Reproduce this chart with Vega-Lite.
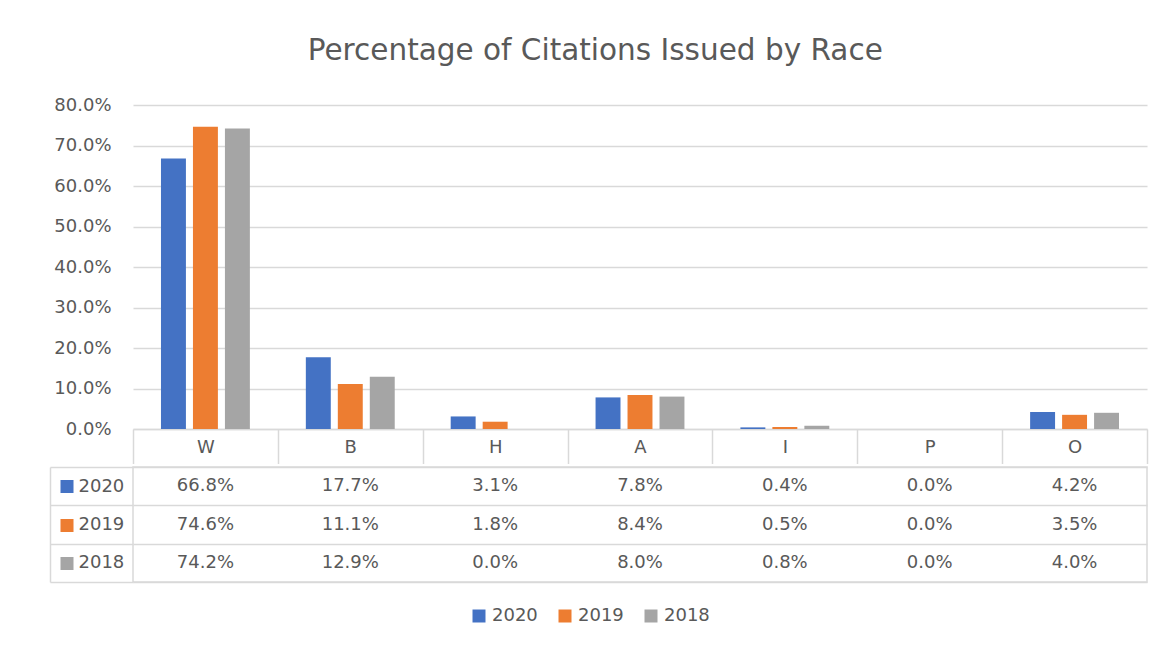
{
  "$schema": "https://vega.github.io/schema/vega-lite/v6.json",
  "padding": {"left": 42, "top": 35, "right": 20, "bottom": 0},
  "title": {"text": "Percentage of Citations Issued by Race", "fontSize": 29.5, "font": "DejaVu Sans", "fontWeight": "normal", "color": "#595959", "anchor": "middle", "offset": 30},
  "config": {"view": {"stroke": null}, "font": "DejaVu Sans"},
  "data": {"values": [
    {"race": "W", "year": "2020", "value": 0.668},
    {"race": "B", "year": "2020", "value": 0.177},
    {"race": "H", "year": "2020", "value": 0.031},
    {"race": "A", "year": "2020", "value": 0.078},
    {"race": "I", "year": "2020", "value": 0.004},
    {"race": "P", "year": "2020", "value": 0.0},
    {"race": "O", "year": "2020", "value": 0.042},
    {"race": "W", "year": "2019", "value": 0.746},
    {"race": "B", "year": "2019", "value": 0.111},
    {"race": "H", "year": "2019", "value": 0.018},
    {"race": "A", "year": "2019", "value": 0.084},
    {"race": "I", "year": "2019", "value": 0.005},
    {"race": "P", "year": "2019", "value": 0.0},
    {"race": "O", "year": "2019", "value": 0.035},
    {"race": "W", "year": "2018", "value": 0.742},
    {"race": "B", "year": "2018", "value": 0.129},
    {"race": "H", "year": "2018", "value": 0.0},
    {"race": "A", "year": "2018", "value": 0.080},
    {"race": "I", "year": "2018", "value": 0.008},
    {"race": "P", "year": "2018", "value": 0.0},
    {"race": "O", "year": "2018", "value": 0.040}
  ]},
  "spacing": 0,
  "vconcat": [
    {
      "width": 1014,
      "height": 324,
      "mark": {"type": "bar"},
      "encoding": {
        "x": {"field": "race", "type": "nominal", "sort": ["W", "B", "H", "A", "I", "P", "O"],
          "scale": {"paddingInner": 0, "paddingOuter": 0},
          "axis": {"orient": "bottom", "title": null, "domain": true, "domainColor": "#d9d9d9", "domainWidth": 1.5,
            "ticks": true, "tickBand": "extent", "tickSize": 34.5, "tickColor": "#d9d9d9", "tickWidth": 1.5,
            "labelAngle": 0, "labelFontSize": 18, "labelColor": "#595959", "labelFont": "DejaVu Sans", "labelBaseline": "middle", "labelPadding": -16}},
        "xOffset": {"field": "year", "type": "nominal", "sort": ["2020", "2019", "2018"],
          "scale": {"paddingInner": 0.22, "paddingOuter": 0.875}},
        "y": {"field": "value", "type": "quantitative", "scale": {"domain": [0, 0.8]},
          "axis": {"title": null, "values": [0, 0.1, 0.2, 0.3, 0.4, 0.5, 0.6, 0.7, 0.8], "format": ".1%",
            "grid": true, "gridColor": "#d9d9d9", "gridWidth": 1.5, "domain": false, "ticks": false,
            "labelPadding": 22, "labelFontSize": 18, "labelColor": "#595959", "labelFont": "DejaVu Sans"}},
        "color": {"field": "year", "type": "nominal",
          "scale": {"domain": ["2020", "2019", "2018"], "range": ["#4472c4", "#ed7d31", "#a5a5a5"]},
          "legend": {"orient": "none", "direction": "horizontal", "legendX": 337, "legendY": 502, "title": null,
            "symbolType": "square", "symbolSize": 169, "symbolStrokeWidth": 0, "labelFontSize": 18,
            "labelColor": "#595959", "labelFont": "DejaVu Sans", "columnPadding": 18, "labelOffset": 4}}
      }
    },
    {
      "width": 1014,
      "height": 115,
      "view": {"stroke": "#d9d9d9", "strokeWidth": 1.5},
      "layer": [
        {
          "mark": {"type": "text", "font": "DejaVu Sans", "fontSize": 18, "color": "#595959"},
          "encoding": {
            "x": {"field": "race", "type": "nominal", "sort": ["W", "B", "H", "A", "I", "P", "O"],
              "scale": {"paddingInner": 0, "paddingOuter": 0},
              "axis": {"orient": "top", "title": null, "grid": true, "tickBand": "extent", "gridColor": "#d9d9d9", "gridWidth": 1.5,
                "labels": false, "ticks": false, "domain": false}},
            "y": {"field": "year", "type": "nominal", "sort": ["2020", "2019", "2018"],
              "scale": {"paddingInner": 0, "paddingOuter": 0},
              "axis": {"title": null, "grid": true, "tickBand": "extent", "gridColor": "#d9d9d9", "gridWidth": 1.5,
                "ticks": true, "tickSize": 83, "tickColor": "#d9d9d9", "tickWidth": 1.5, "labels": false, "domain": false}},
            "text": {"field": "value", "type": "quantitative", "format": ".1%"}
          }
        },
        {
          "mark": {"type": "text", "opacity": 0},
          "encoding": {
            "x": {"field": "race", "type": "nominal", "sort": ["W", "B", "H", "A", "I", "P", "O"], "axis": null},
            "y": {"field": "year", "type": "nominal", "sort": ["2020", "2019", "2018"],
              "scale": {"paddingInner": 0, "paddingOuter": 0},
              "axis": {"orient": "left", "offset": 83, "title": null, "grid": false,
                "domain": true, "domainColor": "#d9d9d9", "domainWidth": 1.5,
                "ticks": true, "tickSize": -23, "tickWidth": 13, "tickDash": [0, 10, 13, 100],
                "tickColor": {"condition": [{"test": "datum.value === '2020'", "value": "#4472c4"}, {"test": "datum.value === '2019'", "value": "#ed7d31"}], "value": "#a5a5a5"},
                "labels": true, "labelAlign": "left", "labelPadding": -5, "labelFontSize": 18, "labelColor": "#595959", "labelFont": "DejaVu Sans"}},
            "text": {"field": "value", "type": "quantitative", "format": ".1%"}
          }
        }
      ],
      "resolve": {"scale": {"y": "independent"}}
    }
  ]
}
